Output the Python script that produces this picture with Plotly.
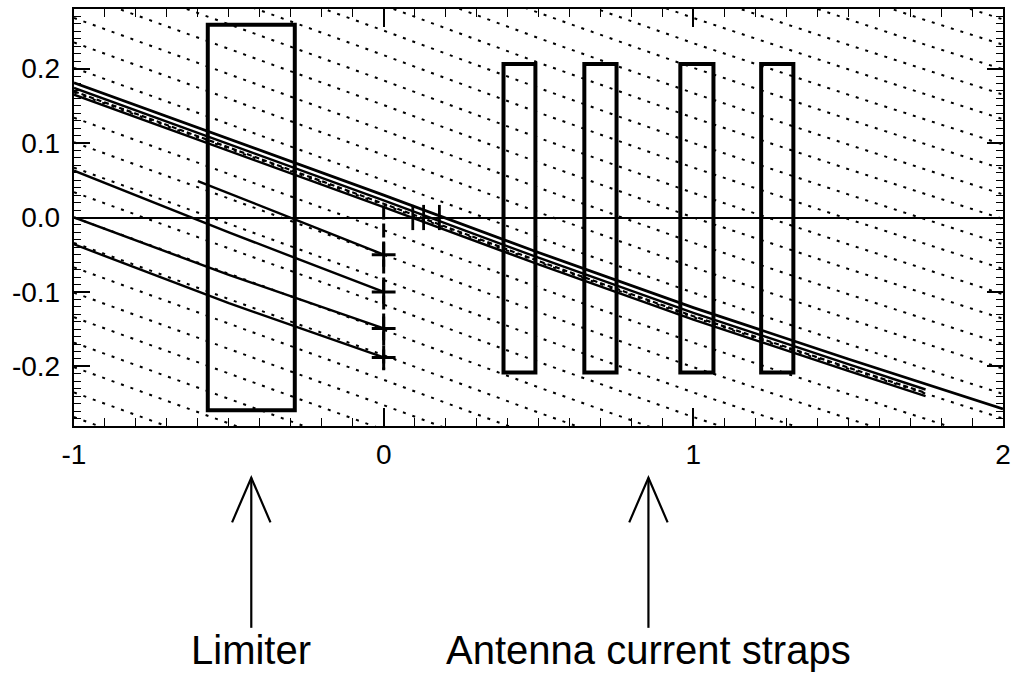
import plotly.graph_objects as go

# ---- axes ----
X_RANGE = [-1.0, 2.0]
Y_RANGE = [-0.28, 0.28]
x_tick_vals = [-1, 0, 1, 2]
x_tick_text = ["-1", "0", "1", "2"]
y_tick_vals = [-0.2, -0.1, 0.0, 0.1, 0.2]
y_tick_text = ["-0.2", "-0.1", "0.0", "0.1", "0.2"]

# ---- field line profile (top solid line) ----
field_x = [-1.0, -0.5, 0.0, 0.5, 1.0, 1.5, 1.75, 2.0]
field_y = [0.181, 0.106, 0.030, -0.047, -0.121, -0.190, -0.224, -0.257]

# companion lines drawn just under the top line (offsets in y), ending at x = 1.75
bundle_solid_offsets = [-0.007, -0.016]
bundle_dash_offset = -0.0115
bundle_end_index = 6

# dotted guide lines: value at x = -1 for each line of the family
guide_starts = [-0.268, -0.235, -0.201, -0.168, -0.134, -0.101, -0.067, -0.034,
                0.000, 0.034, 0.067, 0.101, 0.134, 0.168, 0.201, 0.235, 0.268,
                0.302, 0.335, 0.369, 0.402, 0.436, 0.469, 0.503, 0.536, 0.570,
                0.603, 0.637, 0.670, 0.704, 0.737]

# short field lines ending on the x = 0 probe
short_lines_x = [
    [-0.6, -0.3, 0.0],
    [-1.0, -0.5, 0.0],
    [-1.0, -0.5, 0.0],
    [-1.0, -0.5, 0.0],
]
short_lines_y = [
    [0.049, 0.000, -0.050],
    [0.063, -0.020, -0.100],
    [0.000, -0.077, -0.149],
    [-0.036, -0.115, -0.188],
]

# probe positions
probe_x = [0.0, 0.0, 0.0, 0.0]
probe_y = [-0.050, -0.100, -0.149, -0.188]
probe_line_y = [0.016, -0.205]
midplane_marks_x = [0.094, 0.129, 0.180]

# limiter and antenna straps
limiter_x = [-0.568, -0.287]
limiter_y = [-0.259, 0.259]
strap_left = [0.387, 0.648, 0.958, 1.219]
strap_right = [0.490, 0.752, 1.065, 1.323]
strap_y = [-0.208, 0.206]

labels = ["Limiter", "Antenna current straps"]

FONT = "Liberation Sans, Arial, Helvetica, sans-serif"

fig = go.Figure()

# dotted family
gx, gy = [], []
for c in guide_starts:
    shift = c - field_y[0]
    gx += field_x + [None]
    gy += [v + shift for v in field_y] + [None]
fig.add_trace(go.Scatter(x=gx, y=gy, mode="lines", hoverinfo="skip",
                         line=dict(color="black", width=2, dash="3px,7px")))

# top solid field line
fig.add_trace(go.Scatter(x=field_x, y=field_y, mode="lines",
                         line=dict(color="black", width=2.8)))

# bundle: two solid lines with a dashed one between
bx = field_x[:bundle_end_index + 1]
for off in bundle_solid_offsets:
    fig.add_trace(go.Scatter(x=bx, y=[v + off for v in field_y[:bundle_end_index + 1]],
                             mode="lines", line=dict(color="black", width=2.4)))
fig.add_trace(go.Scatter(x=bx, y=[v + bundle_dash_offset for v in field_y[:bundle_end_index + 1]],
                         mode="lines", line=dict(color="black", width=2.2, dash="5px,3px")))

# short field lines
for sx, sy in zip(short_lines_x, short_lines_y):
    fig.add_trace(go.Scatter(x=sx, y=sy, mode="lines", line=dict(color="black", width=2.4)))

# probe line with crosses
fig.add_trace(go.Scatter(x=[0.0, 0.0], y=probe_line_y, mode="lines",
                         line=dict(color="black", width=3, dash="14px,4px")))
fig.add_trace(go.Scatter(x=probe_x, y=probe_y, mode="markers",
                         marker=dict(symbol="cross-thin", size=17,
                                     line=dict(color="black", width=3))))
fig.add_trace(go.Scatter(x=midplane_marks_x, y=[0] * len(midplane_marks_x), mode="markers",
                         marker=dict(symbol="line-ns", size=18,
                                     line=dict(color="black", width=2.8))))

# limiter and straps
shapes = [dict(type="rect", xref="x", yref="y", x0=limiter_x[0], x1=limiter_x[1],
               y0=limiter_y[0], y1=limiter_y[1], line=dict(color="black", width=4))]
for l, r in zip(strap_left, strap_right):
    shapes.append(dict(type="rect", xref="x", yref="y", x0=l, x1=r,
                       y0=strap_y[0], y1=strap_y[1], line=dict(color="black", width=4)))

# arrows under the plot
ARROW_TIP = -0.124
ARROW_TAIL = -0.484
HEAD_LEN = 0.107
HEAD_HALF = 0.062
limiter_mid = (limiter_x[0] + limiter_x[1]) / 2
straps_mid = (strap_left[0] + strap_right[-1]) / 2
for xm in [limiter_mid, straps_mid]:
    shapes.append(dict(type="line", xref="x", yref="paper", x0=xm, x1=xm,
                       y0=ARROW_TAIL, y1=ARROW_TIP, line=dict(color="black", width=2.2)))
    shapes.append(dict(type="path", xref="x", yref="paper",
                       path=f"M {xm - HEAD_HALF} {ARROW_TIP - HEAD_LEN} L {xm} {ARROW_TIP} "
                            f"L {xm + HEAD_HALF} {ARROW_TIP - HEAD_LEN}",
                       line=dict(color="black", width=2.2)))

annotations = [
    dict(x=limiter_mid, y=-0.537, xref="x", yref="paper", text=labels[0],
         showarrow=False, font=dict(family=FONT, size=40, color="black"),
         xanchor="center", yanchor="middle"),
    dict(x=straps_mid, y=-0.537, xref="x", yref="paper", text=labels[1],
         showarrow=False, font=dict(family=FONT, size=40, color="black"),
         xanchor="center", yanchor="middle"),
]

fig.update_layout(
    width=1018, height=681,
    margin=dict(l=74, r=13, t=7, b=255),
    paper_bgcolor="white", plot_bgcolor="white",
    showlegend=False,
    shapes=shapes, annotations=annotations,
    font=dict(family=FONT, color="black"),
)
fig.update_xaxes(
    range=X_RANGE, tickmode="array", tickvals=x_tick_vals, ticktext=x_tick_text,
    ticks="inside", ticklen=18, tickwidth=1.6, tickcolor="black",
    minor=dict(tickmode="linear", tick0=0, dtick=0.1, ticks="inside", ticklen=8,
               tickwidth=1.4, tickcolor="black", showgrid=False),
    showline=True, linewidth=2.4, linecolor="black", mirror="ticks",
    showgrid=False, zeroline=False, tickfont=dict(size=28), ticklabelstandoff=2,
)
fig.update_yaxes(
    range=Y_RANGE, tickmode="array", tickvals=y_tick_vals, ticktext=y_tick_text,
    ticks="inside", ticklen=16, tickwidth=1.6, tickcolor="black",
    minor=dict(tickmode="linear", tick0=0, dtick=0.01, ticks="inside", ticklen=7,
               tickwidth=1.4, tickcolor="black", showgrid=False),
    showline=True, linewidth=2.4, linecolor="black", mirror="ticks",
    showgrid=False, zeroline=True, zerolinecolor="black", zerolinewidth=2,
    tickfont=dict(size=28), ticklabelstandoff=6,
)

fig.write_html("out.html")
